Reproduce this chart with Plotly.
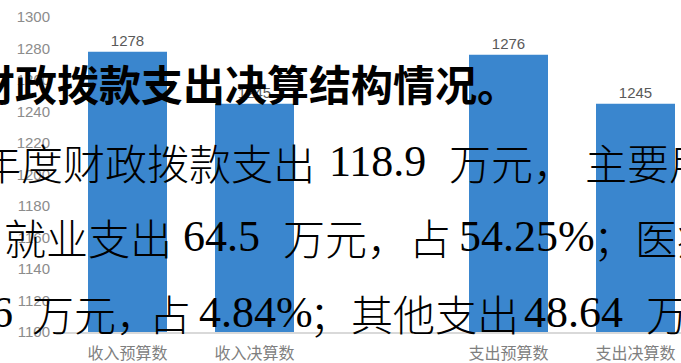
import plotly.graph_objects as go

# Budget vs. final accounts (income / expenditure)
categories = ["收入预算数", "收入决算数", " ", "支出预算数", "支出决算数"]
values = [1278, 1245, None, 1276, 1245]
y_ticks = list(range(1100, 1301, 20))

# Body text of the report page laid over the chart, split into runs
line1_runs = ["财政拨款支出决算结构情况。"]
line2_runs = ["年度财政拨款支出", "118.9", "万元，", "主要用"]
line3_runs = ["就业支出", "64.5", "万元，占", "54.25%", "；医疗"]
line4_runs = ["6", "万元，", "占", "4.84%", "；其他支出", "48.64", "万"]

W, H = 681, 363
ML, MR, MT, MB = 64, 0, 17, 31
PW, PH = W - ML - MR, H - MT - MB


def px_x(px):
    return (px - ML) / PW


def px_y(py):
    return (H - MB - py) / PH


fig = go.Figure(
    go.Bar(
        x=categories,
        y=values,
        marker=dict(color="#3A86CE", line=dict(width=0)),
        text=[("" if v is None else str(v)) for v in values],
        textposition="outside",
        cliponaxis=False,
        textfont=dict(family="Liberation Sans, Arial, sans-serif", size=15, color="#595959"),
        hoverinfo="skip",
    )
)

# per line: (runs, left edge px of each run, centre px, bold)
page_lines = [
    (line1_runs, [-28], 82, True),
    (line2_runs, [-22, 328, 448, 584], 161, False),
    (line3_runs, [3, 182, 282, 458, 592], 236, False),
    (line4_runs, [-10, 31, 148, 198, 308, 523, 645], 312, False),
]

annotations = []
for runs, lefts, cy, bold in page_lines:
    for run, lx in zip(runs, lefts):
        latin = run[0].isascii()
        if bold:
            font = dict(family="Noto Sans CJK SC, sans-serif", size=42,
                        color="#000000", weight="bold")
        elif latin:
            font = dict(family="Liberation Serif, serif", size=44, color="#000000")
        else:
            font = dict(family="Noto Sans CJK SC, sans-serif", size=42,
                        color="#000000", weight=300)
        annotations.append(
            dict(
                text=run,
                xref="paper",
                yref="paper",
                x=px_x(lx),
                y=px_y(cy),
                xanchor="left",
                yanchor="middle",
                showarrow=False,
                borderpad=0,
                font=font,
            )
        )

fig.update_layout(
    width=W,
    height=H,
    margin=dict(l=ML, r=MR, t=MT, b=MB),
    paper_bgcolor="#FFFFFF",
    plot_bgcolor="#FFFFFF",
    bargap=0.378,
    showlegend=False,
    annotations=annotations,
    xaxis=dict(
        type="category",
        range=[-0.5, -0.5 + PW / 127],
        showgrid=False,
        showline=True,
        linecolor="#D9D9D9",
        linewidth=1.5,
        ticks="",
        ticklabelstandoff=6,
        tickfont=dict(family="Noto Sans CJK SC, sans-serif", size=16, color="#7F7F7F"),
        fixedrange=True,
    ),
    yaxis=dict(
        range=[1100, 1300],
        tickvals=y_ticks,
        ticktext=[str(t) for t in y_ticks],
        showgrid=False,
        zeroline=False,
        showline=False,
        ticks="",
        ticklabelstandoff=13,
        tickfont=dict(family="Liberation Sans, Arial, sans-serif", size=15, color="#8C8C8C"),
        fixedrange=True,
    ),
)

fig.write_html("out.html")
